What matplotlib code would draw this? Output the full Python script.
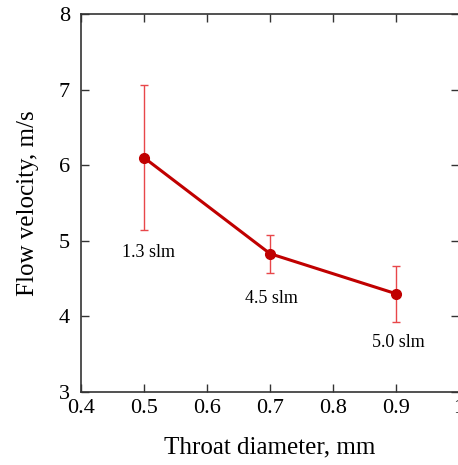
import matplotlib.pyplot as plt

# throat diameter vs flow velocity
diameter = [0.5, 0.7, 0.9]
velocity = [6.10, 4.83, 4.30]
err = [0.96, 0.25, 0.37]
flow_labels = ['1.3 slm', '4.5 slm', '5.0 slm']
label_pos = [(0.507, 4.84), (0.702, 4.24), (0.903, 3.66)]

plt.rcParams['font.family'] = ['Liberation Serif', 'DejaVu Serif']

fig = plt.figure(figsize=(4.58, 4.65), dpi=100)
ax = fig.add_axes([81 / 458, 1 - 392 / 465, 378 / 458, 378 / 465])

ax.errorbar(diameter, velocity, yerr=err, fmt='none', ecolor='#e8474a',
            elinewidth=1.0, capsize=3, capthick=1.0, zorder=2)
ax.plot(diameter, velocity, color='#c00000', lw=2.2, marker='o', ms=7, zorder=3)

for txt, (x, y) in zip(flow_labels, label_pos):
    ax.text(x, y, txt, ha='center', va='center', fontsize=13)

ax.set_xlim(0.4, 1.0)
ax.set_ylim(3, 8)
ax.set_xticks([0.4, 0.5, 0.6, 0.7, 0.8, 0.9, 1.0])
ax.set_xticklabels(['0.4', '0.5', '0.6', '0.7', '0.8', '0.9', '1'])
ax.set_yticks([3, 4, 5, 6, 7, 8])
ax.tick_params(direction='in', top=True, right=True, length=6, width=1,
               labelsize=16, color='#333333')
ax.tick_params(axis='x', pad=5)
ax.tick_params(axis='y', pad=8)
for s in ax.spines.values():
    s.set_color('#333333')
    s.set_linewidth(1.2)

ax.set_xlabel('Throat diameter, mm', fontsize=18, labelpad=13)
ax.set_ylabel('Flow velocity, m/s', fontsize=18, labelpad=14)

fig.savefig('out.png', dpi=100)
